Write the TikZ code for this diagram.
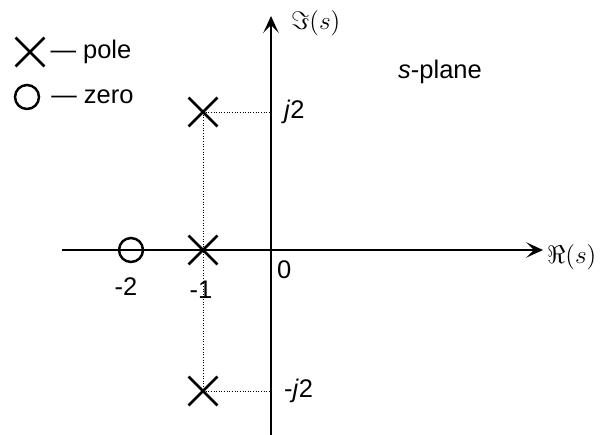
\documentclass[tikz,border=0pt]{standalone}
\usepackage{fontspec}
\setmainfont{Liberation Sans}
\usetikzlibrary{arrows.meta,positioning,shapes.misc}

\begin{document}
\begin{tikzpicture}[
  x=0.02cm, y=-0.02cm,
  font=\fontsize{14.5}{17}\selectfont,
  polemark/.style={draw, cross out, line width=1.6pt, minimum size=0.52cm, inner sep=0pt},
  zeromark/.style={draw, circle, line width=1.4pt, minimum size=0.48cm, inner sep=0pt},
  axis/.style={-{Stealth[length=3.4mm, width=3.1mm, inset=1.6mm]}, line width=0.9pt},
  guide/.style={densely dotted, line width=0.5pt},
  axlabel/.style={font=\fontsize{14.5}{17}\selectfont, inner sep=1pt}
]
\useasboundingbox (0,0) rectangle (601,435);
% axes
\coordinate (origin) at (271,250);
\coordinate (reL) at (62,250);
\coordinate (reR) at (543,250);
\coordinate (imB) at (271,435);
\coordinate (imT) at (271,16);
\draw[axis] (reL) -- (reR);
\draw[axis] (imB) -- (imT);
\node[axlabel, right=0.4mm of reR, yshift=-1.5mm] (relabel) {$\Re(s)$};
\node[axlabel, right=3.6mm of imT, yshift=-1.4mm] (imlabel) {$\Im(s)$};
% poles and zero
\node[polemark] (poleup) at (203,112) {};
\node[polemark] (polemid) at (203,250) {};
\node[polemark] (poledown) at (203,391) {};
\node[zeromark] (zero) at (131,250) {};
\coordinate (jtwo) at (origin |- poleup);
\coordinate (mjtwo) at (origin |- poledown);
\draw[guide] (poleup.center) -- (jtwo);
\draw[guide] (poleup.center) -- (poledown.center);
\draw[guide] (poledown.center) -- (mjtwo);
% tick labels
\node[right=1.4mm of jtwo] (jtwolabel) {\textit{j}2};
\node[right=1.4mm of mjtwo] (mjtwolabel) {-\textit{j}2};
\node[below=2mm of polemid, xshift=-0.4mm] (monelabel) {-1};
\node[below=1.6mm of zero, xshift=-1mm] (mtwolabel) {-2};
\node[below right=1mm and 0pt of origin] (zerolabel) {0};
\node (plane) at (440,72) {\textit{s}-plane};
% legend
\node[polemark] (legpole) at (30,52) {};
\node[right=0pt of legpole] (legpoletext) {— pole};
\node[zeromark] (legzero) at (27,97) {};
\node[right=1mm of legzero] (legzerotext) {— zero};
\end{tikzpicture}
\end{document}
